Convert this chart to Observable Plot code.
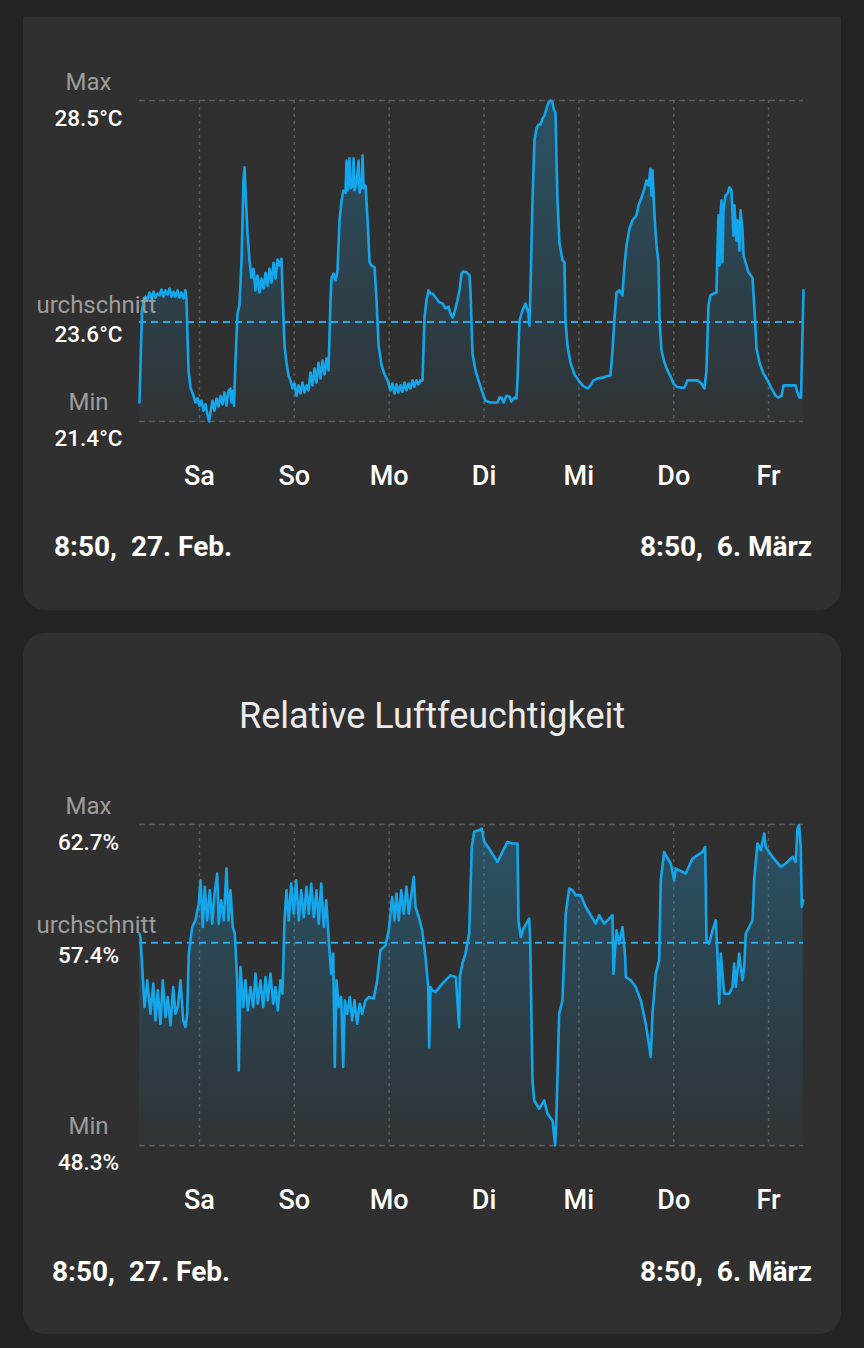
<!DOCTYPE html>
<html><head><meta charset="utf-8">
<script src="https://cdn.jsdelivr.net/npm/d3@7"></script>
<script src="https://cdn.jsdelivr.net/npm/@observablehq/plot@0.6"></script>
<style>
html,body{margin:0;padding:0}
body{background:#232425;width:864px;height:1348px;overflow:hidden;font-family:Roboto,sans-serif;position:relative}
.card{position:absolute;left:23px;width:818px;background:#303030}
#c1{top:17px;height:593px;border-radius:0 0 22px 22px}
#c2{top:633px;height:701px;border-radius:22px}
.chart{position:absolute;left:37px}
.foot{position:absolute;font-weight:700;font-size:28px;color:#fff;white-space:pre;line-height:1}
.title{position:absolute;left:0;width:864px;text-align:center;font-size:36px;color:#ececec;line-height:1}
</style></head><body>
<div class="card" id="c1"></div>
<div class="card" id="c2"></div>
<div class="chart" id="ch1" style="top:60px"></div>
<div class="title" style="top:698px">Relative Luftfeuchtigkeit</div>
<div class="chart" id="ch2" style="top:784px"></div>
<div class="foot" style="top:533px;left:54px">8:50,  27. Feb.</div>
<div class="foot" style="top:533px;right:52px">8:50,  6. März</div>
<div class="foot" style="top:1258px;left:52px">8:50,  27. Feb.</div>
<div class="foot" style="top:1258px;right:52px">8:50,  6. März</div>
<script>
// ---- data ----
const startTime = "2026-02-27T08:50";
const spanHours = 168;
const dayTickDates = ["2026-02-28","2026-03-01","2026-03-02","2026-03-03","2026-03-04","2026-03-05","2026-03-06"];
const dayLabels = ["Sa","So","Mo","Di","Mi","Do","Fr"];
const statNames = ["Max","Durchschnitt","Min"];
const tempStats = [28.5, 23.6, 21.4];
const humStats = [62.7, 57.4, 48.3];

const tempHours = [
0,0.63,1.01,1.52,2.02,2.53,3.04,3.54,4.05,4.55,
5.06,5.57,6.07,6.58,7.08,7.59,8.10,8.60,9.11,9.61,
10.12,10.63,11.13,11.64,11.89,12.40,12.90,13.66,14.17,14.67,
15.18,15.68,16.19,16.70,17.20,17.58,17.96,18.47,18.98,19.48,
19.99,20.49,21.00,21.51,22.01,22.52,23.02,23.28,23.53,23.91,
24.29,24.79,25.30,25.81,26.31,26.57,26.94,27.32,27.83,28.34,
28.84,29.35,29.85,30.36,30.87,31.37,31.88,32.38,32.89,33.40,
33.90,34.41,34.91,35.42,35.93,36.18,36.69,37.19,37.70,38.20,
38.71,39.22,39.72,40.23,40.73,41.24,41.75,42.25,42.76,43.26,
43.77,44.28,44.78,45.29,45.79,46.30,46.81,47.31,47.82,48.33,
48.58,49.09,49.60,50.10,50.61,51.12,51.62,52.13,52.38,52.64,
53.14,53.40,53.90,54.16,54.41,54.92,55.42,55.68,56.19,56.44,
56.69,57.20,57.71,58.21,58.72,59.48,59.98,60.49,61.25,62.01,
62.77,63.50,64.01,64.52,65.02,65.53,66.03,66.54,67.05,67.55,
68.06,68.56,69.07,69.58,70.08,70.59,71.09,71.60,72.11,72.61,
73.12,73.63,74.13,75.14,75.90,76.66,77.42,78.18,78.68,79.19,
79.69,80.45,80.96,81.47,81.97,82.73,83.49,83.74,84.25,85.01,
86.02,86.78,87.54,88.80,90.57,91.08,91.59,92.09,92.85,93.61,
94.12,94.87,95.38,95.63,96.14,96.90,97.66,98.41,98.67,98.92,
99.43,99.93,100.44,100.95,101.45,101.96,102.47,102.97,103.48,103.98,
104.49,104.74,105.25,105.75,106.26,107.02,107.52,107.78,108.28,109.04,
110.06,111.07,112.08,113.35,114.10,114.86,115.88,117.14,118.15,119.16,
119.67,120.18,120.68,121.44,122.20,122.70,123.21,123.97,124.73,125.74,
126.25,127.01,127.77,128.27,128.78,129.28,129.54,129.79,130.30,130.81,
131.31,131.57,132.07,132.83,133.59,134.35,135.11,135.86,136.88,137.89,
138.65,139.91,141.18,142.19,142.95,143.45,143.96,144.46,145.22,145.98,
146.23,146.49,146.74,146.99,147.25,147.50,147.76,148.26,148.77,149.27,
149.78,150.29,150.54,151.05,151.30,151.81,152.06,152.57,152.83,153.33,
154.09,155.10,155.61,156.12,156.87,157.88,158.90,159.91,160.92,161.68,
162.44,162.95,163.96,164.98,165.99,166.49,167.00,167.38,167.76,168.0];
const tempValues = [
21.82,23.85,24.08,24.16,24.08,24.25,24.12,24.27,24.14,24.23,
24.19,24.32,24.16,24.30,24.21,24.34,24.16,24.27,24.16,24.30,
24.14,24.25,24.12,24.30,24.08,22.53,22.15,21.97,21.82,21.91,
21.75,21.86,21.64,21.78,21.55,21.40,21.60,21.86,21.64,21.91,
21.73,21.97,21.78,22.04,21.75,22.08,22.13,21.82,22.08,21.75,
22.75,23.79,23.97,24.96,26.73,27.02,26.29,25.56,24.96,24.58,
24.78,24.30,24.63,24.25,24.56,24.34,24.69,24.40,24.78,24.47,
24.91,24.56,24.98,24.85,25.00,24.30,23.08,22.70,22.42,22.31,
22.13,22.24,21.97,22.20,22.02,22.26,22.04,22.20,22.09,22.48,
22.20,22.57,22.26,22.70,22.35,22.75,22.44,22.79,22.53,24.08,
24.58,24.67,24.52,24.74,25.85,26.29,26.51,26.46,27.17,26.51,
27.22,26.56,26.60,27.22,26.51,26.69,27.17,26.46,26.62,27.28,
26.56,26.62,25.85,24.92,24.85,24.81,24.08,23.08,22.64,22.44,
22.31,22.09,22.24,22.02,22.22,22.04,22.20,22.06,22.26,22.09,
22.24,22.13,22.31,22.17,22.31,22.22,22.31,22.31,23.70,24.08,
24.30,24.23,24.23,24.12,24.03,24.01,23.90,23.94,23.79,23.70,
23.81,24.08,24.30,24.67,24.72,24.70,24.63,24.30,22.90,22.53,
22.24,22.04,21.86,21.82,21.82,21.93,21.93,21.82,21.97,21.95,
21.84,21.93,21.91,22.31,23.63,23.85,24.01,23.79,23.52,24.30,
26.29,27.62,27.88,27.97,27.97,28.10,28.17,28.32,28.46,28.50,
28.46,28.32,28.23,26.29,25.34,24.97,24.92,23.63,23.08,22.70,
22.44,22.31,22.20,22.13,22.20,22.31,22.35,22.37,22.40,22.42,
22.97,23.68,24.25,24.30,24.19,24.85,25.29,25.67,25.85,25.96,
26.18,26.35,26.55,26.73,26.62,26.99,26.40,26.95,25.96,25.29,
24.92,23.63,22.97,22.70,22.53,22.40,22.24,22.17,22.15,22.15,
22.31,22.31,22.31,22.24,22.13,22.53,23.97,24.19,24.23,24.25,
25.18,25.96,24.85,25.96,26.29,24.92,26.07,26.40,26.44,26.58,
26.51,25.51,26.18,25.40,25.85,25.18,26.07,25.62,25.07,24.92,
24.70,24.58,23.85,23.01,22.70,22.46,22.31,22.13,21.97,21.93,
21.97,22.20,22.20,22.20,22.20,22.04,21.93,21.93,23.41,24.30];

const humHours = [
0,0.25,0.68,1.27,1.95,2.78,3.47,4.05,4.63,5.31,
5.89,6.58,7.16,7.84,8.53,9.11,9.69,10.37,11.06,11.64,
12.07,12.47,13.33,14.17,15.00,15.43,16.01,16.52,17.13,17.79,
18.39,18.98,19.66,20.06,20.67,21.33,22.01,22.52,23.02,23.60,
24.11,24.72,25.12,25.55,26.24,26.82,27.40,28.08,28.77,29.35,
29.93,30.61,31.30,31.88,32.46,33.14,33.83,34.41,34.99,35.67,
36.18,36.69,37.19,37.77,38.38,39.04,39.65,40.30,40.91,41.57,
42.25,42.83,43.44,44.10,44.78,45.36,45.97,46.63,47.24,47.89,
48.50,49.01,49.41,49.84,50.42,51.03,51.54,51.94,52.55,53.21,
53.81,54.40,55.08,55.74,56.34,57.18,58.01,59.28,60.14,60.97,
62.24,63.07,63.93,64.52,65.02,65.60,66.21,66.87,67.55,68.13,
69.40,69.83,70.66,71.52,72.36,73.04,73.29,73.62,74.13,74.89,
76.66,78.68,80.02,80.88,81.03,81.72,82.48,83.41,84.07,84.68,
85.94,86.60,87.21,88.47,90.57,93.10,94.37,95.63,95.89,96.47,
97.33,98.59,98.85,99.43,99.86,101.12,102.39,103.22,104.49,105.17,
105.50,106.18,107.02,107.85,108.71,109.55,110.38,111.65,112.91,115.44,
116.30,117.57,119.67,119.92,120.68,121.36,122.20,122.88,123.04,124.30,
125.56,126.83,128.09,129.36,129.79,130.62,131.48,131.89,132.75,133.15,
134.42,135.28,135.68,138.21,139.91,142.44,143.12,143.45,144.13,144.97,
145.80,146.23,146.66,147.07,147.93,149.19,150.03,150.46,150.86,151.72,
152.56,152.99,153.39,154.25,155.09,155.52,156.35,157.19,158.05,158.45,
160.15,162.25,163.51,165.21,166.04,166.47,166.90,167.31,167.56,167.92];
const humValues = [
57.81,57.65,56.31,54.51,55.71,54.21,55.56,53.91,55.26,53.76,
55.71,54.06,54.96,53.69,55.41,54.21,54.51,55.71,53.91,53.61,
54.21,56.91,58.10,58.40,59.15,60.20,58.10,59.90,58.40,59.75,
58.25,59.60,60.50,58.25,59.30,58.40,60.72,58.40,59.75,58.10,
57.81,55.71,51.67,56.31,54.51,55.71,54.36,55.41,54.51,56.01,
54.66,55.71,54.51,55.86,54.81,56.01,54.66,55.41,54.36,55.71,
55.11,58.40,59.75,58.40,60.05,58.70,60.20,58.40,59.75,58.55,
59.90,58.70,60.05,58.55,59.75,58.25,60.05,58.10,59.30,57.50,
56.01,56.91,51.82,55.71,54.51,54.96,51.82,54.81,54.21,54.96,
53.91,54.81,53.76,54.66,54.21,54.81,54.96,54.89,55.71,57.06,
57.28,57.95,59.45,58.40,59.60,58.40,59.75,58.70,59.90,58.70,
60.35,59.00,58.55,57.95,56.76,55.41,52.71,55.41,55.26,55.18,
55.57,55.93,55.86,53.61,55.86,56.47,56.91,57.81,61.69,62.37,
62.44,62.52,61.92,61.62,61.02,61.92,61.85,61.85,58.40,57.65,
58.10,58.48,57.50,51.22,50.32,49.95,50.32,49.73,49.42,48.30,
49.73,54.21,54.81,58.70,59.83,59.75,59.53,59.53,59.00,58.25,
58.63,58.25,58.63,56.01,57.95,57.36,58.10,56.76,55.86,55.71,
55.41,54.81,53.76,52.27,54.21,56.01,56.61,60.20,61.47,61.32,
60.95,60.20,60.72,60.50,61.17,61.47,61.69,57.50,57.36,57.95,
58.40,56.91,54.66,56.91,55.11,55.11,55.41,56.46,55.41,56.91,
55.71,56.31,57.81,58.10,58.40,60.20,61.85,61.55,62.30,61.69,
61.25,60.80,60.95,61.25,61.02,62.52,62.67,61.69,59.00,59.30];

// ---- drawing ----
const t0 = new Date(startTime);
const t1 = new Date(t0.getTime() + spanHours * 3600e3);
const ticks = dayTickDates.map(s => new Date(s + "T00:00"));
const nameDy = [-18, -17, -19];
const valueDy = [18, 13, 17];

function makeChart(id, hours, values, stats, fmt) {
  const n = Math.min(hours.length, values.length);
  const data = d3.range(n).map(i => ({t: new Date(t0.getTime() + hours[i] * 3600e3), v: values[i]}));
  const [mx, avg, mn] = stats;
  const gid = "grad-" + id;
  const statMarks = [];
  stats.forEach((s, i) => {
    statMarks.push(Plot.text([s], {y: d => d, text: () => statNames[i], frameAnchor: "left", dx: -51, dy: nameDy[i],
      textAnchor: "middle", fill: "#9d9d9d", fontSize: 24}));
    statMarks.push(Plot.text([s], {y: d => d, text: d => fmt(d), frameAnchor: "left", dx: -51, dy: valueDy[i],
      textAnchor: "middle", fill: "#ffffff", fontSize: 22.5, fontWeight: 500}));
  });
  const svg = Plot.plot({
    width: 804, height: 440,
    marginLeft: 102, marginRight: 38, marginTop: 40, marginBottom: 79,
    style: {background: "transparent", color: "#ffffff", fontFamily: "Roboto, sans-serif", overflow: "hidden"},
    x: {type: "time", domain: [t0, t1]},
    y: {domain: [mn, mx], axis: null},
    marks: [
      Plot.ruleX(ticks, {stroke: "#5b5b5b", strokeWidth: 1.5, strokeDasharray: "3,4"}),
      Plot.ruleY([mx, mn], {stroke: "#5b5b5b", strokeWidth: 1.5, strokeDasharray: "6,4"}),
      Plot.areaY(data, {x: "t", y1: mn, y2: "v", fill: `url(#${gid})`}),
      Plot.ruleY([avg], {stroke: "#2aa9e4", strokeWidth: 2, strokeDasharray: "7,5"}),
      Plot.lineY(data, {x: "t", y: "v", stroke: "#14a6ea", strokeWidth: 2.6}),
      Plot.axisX(ticks, {label: null, tickSize: 0, tickPadding: 44, fontSize: 27, fontWeight: 500, fill: "#ffffff",
        tickFormat: d => dayLabels[ticks.findIndex(t => +t === +d)]}),
      ...statMarks
    ]
  });
  const ns = "http://www.w3.org/2000/svg";
  const defs = document.createElementNS(ns, "defs");
  const lg = document.createElementNS(ns, "linearGradient");
  lg.setAttribute("id", gid);
  lg.setAttribute("x1", "0"); lg.setAttribute("y1", "0");
  lg.setAttribute("x2", "0"); lg.setAttribute("y2", "1");
  [[0, 0.30], [1, 0.03]].forEach(([o, a]) => {
    const st = document.createElementNS(ns, "stop");
    st.setAttribute("offset", o);
    st.setAttribute("stop-color", "#1ba4e6");
    st.setAttribute("stop-opacity", a);
    lg.appendChild(st);
  });
  defs.appendChild(lg);
  svg.insertBefore(defs, svg.firstChild);
  document.getElementById(id).appendChild(svg);
}

makeChart("ch1", tempHours, tempValues, tempStats, d => d.toFixed(1) + "°C");
makeChart("ch2", humHours, humValues, humStats, d => d.toFixed(1) + "%");
</script>
</body></html>
